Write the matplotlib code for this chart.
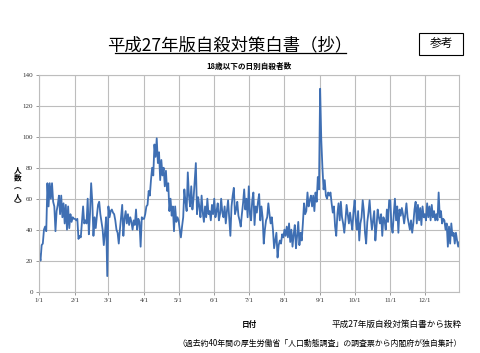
import numpy as np
import matplotlib
matplotlib.use("Agg")
import matplotlib.pyplot as plt
from matplotlib.lines import Line2D
from matplotlib.patches import Rectangle

plt.rcParams['font.family'] = ['Noto Sans CJK JP', 'DejaVu Sans']

# daily counts, one list per month (leap year, 366 days)
jan = [24, 20, 30, 31, 40, 42, 39, 70, 55, 70, 60, 70, 58, 55, 39, 52, 56, 62, 50, 62,
       48, 57, 44, 56, 40, 55, 41, 50, 45, 48, 47]
feb = [47, 46, 47, 34, 36, 35, 45, 55, 44, 46, 44, 60, 37, 50, 70, 58, 36, 48, 41, 49,
       56, 58, 50, 45, 40, 30, 38, 48, 10]
mar = [55, 48, 52, 53, 51, 50, 46, 40, 38, 31, 40, 48, 56, 36, 47, 52, 44, 50, 43, 48,
       45, 40, 46, 43, 53, 40, 47, 45, 29, 48, 47]
apr = [47, 50, 55, 56, 65, 62, 72, 80, 75, 95, 87, 99, 83, 90, 72, 85, 75, 80, 68, 78,
       65, 70, 52, 60, 49, 55, 39, 55, 45, 48]
may = [46, 40, 35, 42, 48, 66, 58, 52, 77, 62, 55, 68, 53, 60, 71, 83, 50, 61, 55, 48,
       62, 51, 45, 55, 48, 60, 50, 52, 46, 56, 50]
jun = [60, 48, 52, 57, 46, 50, 60, 51, 48, 55, 44, 52, 59, 48, 36, 55, 62, 67, 50, 53,
       58, 49, 46, 42, 50, 57, 66, 53, 60, 48]
jul = [68, 50, 46, 59, 64, 43, 55, 51, 58, 63, 46, 55, 48, 31, 40, 46, 48, 57, 50, 44,
       48, 40, 28, 33, 38, 22, 30, 33, 31, 37, 35]
aug = [40, 36, 42, 35, 44, 32, 40, 29, 37, 43, 28, 36, 45, 30, 38, 33, 44, 57, 50, 52,
       64, 55, 59, 62, 55, 62, 52, 64, 58, 74, 66]
sep = [131, 98, 80, 66, 72, 62, 60, 64, 62, 64, 57, 51, 55, 42, 36, 50, 57, 46, 58, 48,
       44, 38, 46, 56, 50, 44, 51, 45, 40, 52]
oct_ = [59, 46, 40, 52, 33, 44, 48, 59, 52, 38, 31, 45, 51, 59, 48, 40, 46, 52, 33, 42,
        53, 48, 44, 50, 36, 48, 46, 40, 53, 45, 59]
nov = [59, 42, 38, 50, 60, 46, 55, 38, 53, 49, 54, 50, 44, 50, 57, 48, 44, 40, 46, 38,
       44, 53, 58, 44, 56, 46, 54, 43, 55, 48]
dec = [50, 46, 57, 48, 55, 46, 56, 48, 52, 46, 50, 46, 64, 48, 52, 44, 47, 46, 40, 44,
       29, 42, 31, 44, 36, 38, 31, 38, 33, 29, 32]

months = [jan, feb, mar, apr, may, jun, jul, aug, sep, oct_, nov, dec]
month_labels = ['1/1', '2/1', '3/1', '4/1', '5/1', '6/1', '7/1', '8/1', '9/1',
                '10/1', '11/1', '12/1']

values = np.concatenate(months)
days = np.arange(len(values))
month_starts = np.cumsum([0] + [len(m) for m in months[:-1]])

fig = plt.figure(figsize=(4.8, 3.53), dpi=100)
ax = fig.add_axes([0.082, 0.174, 0.875, 0.614])

ax.plot(days, values, color='#3F6FB3', lw=1.3)

ax.set_xlim(0, len(values) - 1)
ax.set_ylim(0, 140)
ax.set_yticks(range(0, 141, 20))
ax.set_xticks(month_starts)
ax.set_xticklabels(month_labels)
ax.grid(True, color='#BDBDBD', lw=0.8)
ax.set_axisbelow(True)
for s in ax.spines.values():
    s.set_color('#BDBDBD')
    s.set_linewidth(0.8)
ax.tick_params(length=2.5, width=0.6, color='#888888', pad=2, labelsize=5,
               labelcolor='#333333')
for lab in ax.get_xticklabels() + ax.get_yticklabels():
    lab.set_family('Liberation Serif')

ax.set_title('18歳以下の日別自殺者数', fontsize=5.5, fontweight='bold', pad=4)
ax.set_xlabel('日付', fontsize=5.5, fontweight='bold', labelpad=12)
fig.text(0.036, 0.47, '人\n数\n︵\n人\n︶', fontsize=5.5, fontweight='bold',
         ha='center', va='center', linespacing=1.0)

# page header
fig.text(0.479, 0.873, '平成27年版自殺対策白書（抄）', fontsize=12.5,
         ha='center', va='center')
fig.add_artist(Line2D([0.24, 0.72], [0.851, 0.851], color='black', lw=0.9))
fig.add_artist(Rectangle((0.873, 0.845), 0.092, 0.062, fill=False,
                         edgecolor='black', lw=0.8, transform=fig.transFigure))
fig.text(0.919, 0.876, '参考', fontsize=8.5, ha='center', va='center')

# source notes
fig.text(0.962, 0.082, '平成27年版自殺対策白書から抜粋', fontsize=6.2,
         ha='right', va='center')
fig.text(0.962, 0.028, '（過去約40年間の厚生労働省「人口動態調査」の調査票から内閣府が独自集計）',
         fontsize=5.7, ha='right', va='center')

fig.savefig('out.png', dpi=100)
